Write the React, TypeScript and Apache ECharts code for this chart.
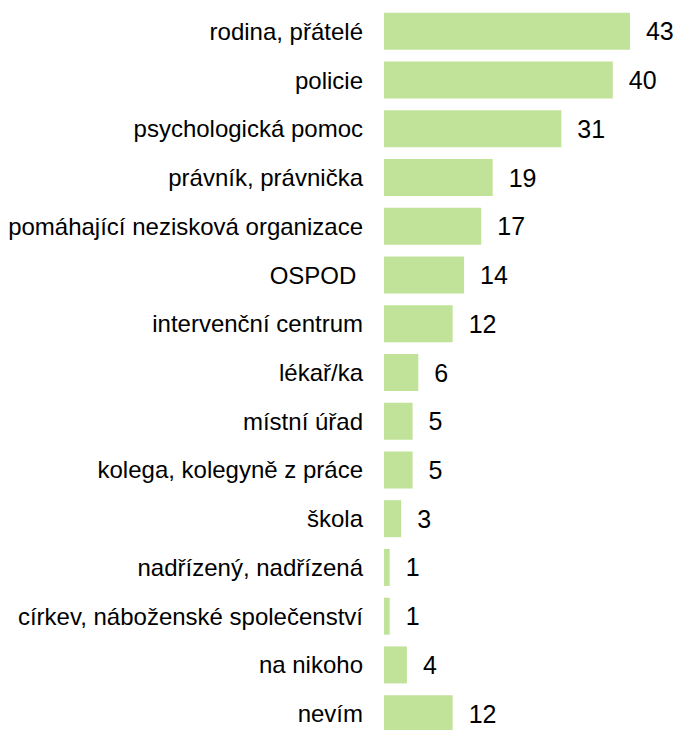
import React, { useEffect, useRef } from "react";
import * as echarts from "echarts";

const categories = [
  "rodina, přátelé",
  "policie",
  "psychologická pomoc",
  "právník, právnička",
  "pomáhající nezisková organizace",
  "OSPOD ",
  "intervenční centrum",
  "lékař/ka",
  "místní úřad",
  "kolega, kolegyně z práce",
  "škola",
  "nadřízený, nadřízená",
  "církev, náboženské společenství",
  "na nikoho",
  "nevím",
];
const values = [43, 40, 31, 19, 17, 14, 12, 6, 5, 5, 3, 1, 1, 4, 12];

export default function App() {
  const ref = useRef<HTMLDivElement>(null);
  useEffect(() => {
    document.body.style.margin = "0";
    document.body.style.overflow = "hidden";
    document.documentElement.style.overflow = "hidden";
    const chart = echarts.init(ref.current!, null, { renderer: "svg" });
    chart.setOption({
      animation: false,
      grid: { left: 384, right: 9, top: 7, bottom: 0, containLabel: false },
      xAxis: { type: "value", min: 0, max: 50, show: false },
      yAxis: {
        type: "category",
        data: categories,
        inverse: true,
        axisLine: { show: false },
        axisTick: { show: false },
        splitLine: { show: false },
        axisLabel: {
          margin: 21,
          color: "#000",
          fontSize: 24,
          fontFamily: "Liberation Sans, Arial, sans-serif",
        },
      },
      series: [
        {
          type: "bar",
          data: values,
          barWidth: 37,
          itemStyle: { color: "#C1E399" },
          label: {
            show: true,
            position: "right",
            distance: 16,
            color: "#000",
            fontSize: 25,
            fontFamily: "Liberation Sans, Arial, sans-serif",
          },
        },
      ],
    });
    return () => chart.dispose();
  }, []);
  return <div ref={ref} style={{ width: 679, height: 738 }} />;
}
